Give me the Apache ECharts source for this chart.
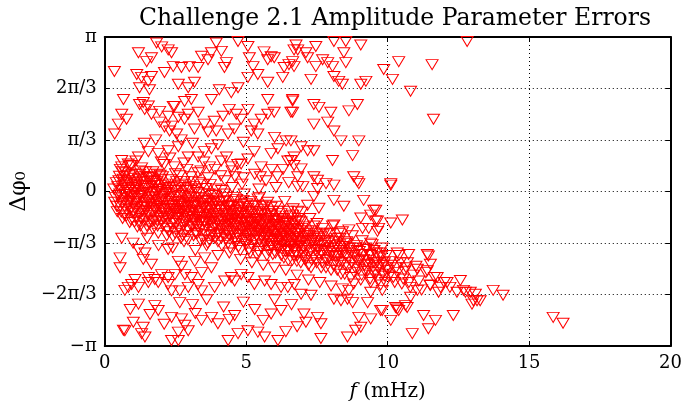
<!DOCTYPE html>
<html><head><meta charset="utf-8">
<script src="https://cdn.jsdelivr.net/npm/echarts@6/dist/echarts.min.js"></script>
<style>html,body{margin:0;padding:0;background:#fff}#c{width:685px;height:407px}</style>
</head><body><div id="c"></div>
<script>
// x: frequency f (mHz); y: phase error Δφ0 (radians)
const xTicks = [0, 5, 10, 15, 20];
const yTickLabels = ['\u2212\u03c0', '\u22122\u03c0/3', '\u2212\u03c0/3', '0', '\u03c0/3', '2\u03c0/3', '\u03c0'];

const upperScatter = [
[0.34,2.44],[1.19,2.82],[1.83,3.02],[2.01,2.94],[2.24,2.88],[2.36,2.82],[1.48,2.64],[1.65,2.72],[1.13,2.38],[1.30,2.32],[1.54,2.24],[1.65,2.34],[2.11,2.42],[2.42,2.54],[2.71,2.52],[2.99,2.54],[3.30,2.52],[1.23,2.11],[1.58,2.07],[2.60,2.18],[2.95,2.11],[3.17,2.22],[0.66,1.87],[1.36,1.81],[1.54,1.74],[2.46,1.73],[2.82,1.83],[3.06,1.87],[3.42,2.75],[3.65,2.68],[3.77,2.82],[3.94,3.02],[4.12,2.85],[4.30,2.62],[4.23,2.52],[4.71,3.05],[5.06,2.95],[5.11,2.72],[5.24,2.54],[5.41,2.38],[5.06,2.32],[5.63,2.84],[5.88,2.74],[5.76,2.68],[5.99,2.72],[6.34,2.52],[6.51,2.58],[6.64,2.64],[6.29,2.32],[6.69,2.88],[6.76,2.98],[5.76,2.22],[4.05,2.07],[3.77,1.87],[4.47,2.01],[4.71,2.11],[5.76,1.87],[6.64,1.87],[6.58,1.61],[0.60,1.57],[0.48,1.37],[0.35,1.17],[0.77,1.47],[1.23,1.77],[1.41,1.67],[1.65,1.57],[1.94,1.63],[2.24,1.53],[2.42,1.73],[2.60,1.51],[2.82,1.47],[1.94,1.41],[2.11,1.31],[2.36,1.33],[2.29,1.23],[2.54,1.17],[2.95,1.57],[3.30,1.61],[3.52,1.37],[3.87,1.43],[4.18,1.53],[4.40,1.67],[4.65,1.57],[4.82,1.47],[5.06,1.67],[5.28,1.37],[5.53,1.47],[5.76,1.57],[5.99,1.61],[3.17,1.27],[3.65,1.21],[3.94,1.23],[4.36,1.17],[4.58,1.27],[5.18,1.23],[5.41,1.17],[6.41,1.03],[0.83,0.56],[0.60,0.50],[1.19,0.70],[1.54,0.81],[1.89,0.77],[2.24,0.83],[2.60,0.91],[2.95,0.70],[3.30,0.70],[3.52,0.81],[3.77,0.87],[4.12,0.62],[4.47,0.50],[4.82,0.56],[5.06,0.66],[5.28,0.81],[5.53,0.50],[5.88,0.77],[6.12,0.87],[6.47,0.62],[6.69,0.70],
[0.6,0.63],[0.95,0.53],[1.4,0.98],[1.8,1.05],[2.7,1.05],[3.1,0.98],[4.0,0.95],[4.9,1.0],[6.0,1.1],[2.0,0.6],[2.8,0.58],[3.9,0.45],[4.3,0.7],[5.5,0.3],[6.3,0.45],
[7.46,2.95],[8.10,3.05],[8.52,3.05],[9.05,2.98],[8.45,2.82],[8.52,2.62],[6.82,2.88],[7.11,2.82],[7.17,2.72],[7.46,2.54],[7.70,2.68],[7.88,2.62],[8.05,2.54],[8.10,2.34],[8.27,2.24],[8.40,2.18],[7.29,2.28],[6.69,2.54],[9.05,2.18],[9.23,2.24],[9.86,2.48],[10.17,2.28],[10.39,2.64],[10.81,2.04],[11.57,2.58],[11.62,1.47],[12.81,3.05],[7.39,1.77],[7.57,1.71],[7.99,1.61],[8.63,1.64],[8.93,1.77],[6.64,1.84],[6.64,1.61],[7.39,1.37],[7.88,1.41],[8.10,1.23],[8.35,1.03],[8.98,1.03],[6.94,0.91],[7.17,0.83],[7.39,0.83],[8.05,0.63],[8.76,0.73],[6.58,1.03],[6.58,0.63],[6.69,0.53],[6.82,0.30],[6.94,0.46],[7.39,0.30],[7.52,0.23],[7.82,0.16],[8.10,0.13],[8.80,0.30],[8.98,0.16],[10.11,0.13],[6.82,0.10],[7.52,0.06],[8.93,0.20]
];

const bandPoints = [
[0.32,0.05],[0.35,-0.22],[0.41,0.18],[0.44,-0.41],[0.48,-0.08],[0.52,0.31],[0.55,-0.3],[0.6,0.02],[0.63,-0.55],[0.67,0.12],[0.7,-0.18],[0.74,0.38],[0.77,-0.37],[0.81,-0.02],[0.84,0.22],[0.88,-0.63],[0.9,-0.12],[0.94,0.08],[0.97,-0.44],[1.0,-0.25],[1.03,0.27],[1.06,-0.05],[1.1,-0.52],[1.13,0.14],[1.16,-0.31],[1.2,-0.14],[1.23,0.35],[1.26,-0.7],[1.3,-0.03],[1.33,-0.4],[1.36,0.19],[1.4,-0.22],[1.43,-0.58],[1.46,0.06],[1.5,-0.33],[1.53,0.28],[1.56,-0.12],[1.6,-0.49],[1.63,0.1],[1.66,-0.27],[1.7,-0.76],[1.73,-0.05],[1.76,0.22],[1.8,-0.38],[1.83,-0.18],[1.86,-0.6],[1.9,0.04],[1.93,-0.3],[1.96,0.33],[2.0,-0.45],
[2.03,-0.1],[2.06,-0.68],[2.1,-0.24],[2.13,0.15],[2.16,-0.5],[2.2,-0.02],[2.23,-0.36],[2.26,-0.82],[2.3,-0.15],[2.33,0.24],[2.36,-0.44],[2.4,-0.28],[2.43,-0.62],[2.46,0.02],[2.5,-0.2],[2.53,-0.53],[2.56,-0.35],[2.6,0.12],[2.63,-0.74],[2.66,-0.08],[2.7,-0.41],[2.73,-0.27],[2.76,-0.9],[2.8,0.2],[2.83,-0.47],[2.86,-0.15],[2.9,-0.6],[2.93,-0.33],[2.96,0.05],[3.0,-0.52],[3.03,-0.22],[3.06,-0.71],[3.1,-0.38],[3.13,0.1],[3.16,-0.57],[3.2,-0.12],[3.23,-0.45],[3.26,-0.86],[3.3,-0.29],[3.33,0.18],[3.36,-0.64],[3.4,-0.4],[3.43,-0.05],[3.46,-0.53],[3.5,-0.98],[3.53,-0.31],[3.56,0.06],[3.6,-0.72],[3.63,-0.46],[3.66,-0.18],[3.7,-0.6],[3.73,0.14],[3.76,-0.39],[3.8,-0.83],[3.83,-0.25],[3.86,-0.55],[3.9,-0.07],[3.93,-0.68],[3.96,-0.36],[4.0,-1.02],
[4.03,-0.48],[4.06,-0.2],[4.1,-0.75],[4.13,0.02],[4.16,-0.58],[4.2,-0.33],[4.23,-0.9],[4.26,-0.44],[4.3,-0.12],[4.33,-0.67],[4.36,-1.05],[4.4,-0.52],[4.43,-0.28],[4.46,-0.8],[4.5,0.08],[4.53,-0.6],[4.56,-0.38],[4.6,-0.95],[4.63,-0.7],[4.66,-0.16],[4.7,-0.55],[4.73,-1.12],[4.76,-0.45],[4.8,-0.82],[4.83,-0.26],[4.86,-0.64],[4.9,-0.99],[4.93,-0.05],[4.96,-0.73],[5.0,-0.5],[5.03,-0.88],[5.06,-0.35],[5.1,-1.18],[5.13,-0.62],[5.16,-0.2],[5.2,-0.78],[5.23,-0.46],[5.26,-1.0],[5.3,-0.7],[5.33,-0.3],[5.36,-0.9],[5.4,-0.57],[5.43,-1.22],[5.46,-0.12],[5.5,-0.8],[5.53,-0.48],[5.56,-1.07],[5.6,-0.66],[5.63,-0.36],[5.66,-0.94],[5.7,-0.6],[5.73,-1.3],[5.76,-0.22],[5.8,-0.85],[5.83,-0.55],[5.86,-1.1],[5.9,-0.74],[5.93,-0.4],[5.96,-0.98],[6.0,-0.67],[6.03,-1.25],[6.06,-0.3],[6.1,-0.88],[6.13,-0.58],[6.16,-1.15],[6.2,-0.78],[6.23,-0.45],[6.26,-1.02],[6.3,-0.7],[6.33,-1.35],[6.36,-0.2],[6.4,-0.92],[6.43,-0.62],[6.46,-1.2],[6.5,-0.82],[6.53,-0.5],[6.56,-1.08],[6.6,-0.75],[6.63,-1.4],[6.66,-0.35],[6.7,-0.96],[6.73,-0.68],[6.76,-1.25],[6.8,-0.86],[6.83,-0.55],[6.86,-1.12],[6.9,-0.8],[6.93,-1.45],[6.96,-0.42],[7.0,-1.0],
[7.05,-0.72],[7.1,-1.2],[7.15,-0.9],[7.2,-1.5],[7.25,-0.55],[7.3,-1.05],[7.35,-0.8],[7.4,-1.32],[7.45,-1.0],[7.5,-0.65],[7.55,-1.18],[7.6,-0.92],[7.65,-1.55],[7.7,-0.75],[7.75,-1.1],[7.8,-1.38],[7.85,-0.85],[7.9,-1.22],[7.95,-1.0],[8.0,-1.6],[8.05,-0.7],[8.1,-1.15],[8.15,-1.42],[8.2,-0.95],[8.25,-1.3],[8.3,-1.08],[8.35,-1.68],[8.4,-0.82],[8.45,-1.25],[8.5,-1.5],[8.55,-1.02],[8.6,-1.35],[8.65,-1.15],[8.7,-1.75],[8.75,-0.9],[8.8,-1.3],[8.85,-1.55],[8.9,-1.1],[8.95,-1.42],[9.0,-1.22],[9.05,-1.8],[9.1,-1.0],[9.15,-1.38],[9.2,-1.62],[9.25,-1.18],[9.3,-1.48],[9.35,-1.28],[9.4,-1.85],[9.45,-1.08],[9.5,-1.45],[9.55,-1.7],[9.6,-1.25],[9.65,-1.55],[9.7,-1.35],[9.75,-1.9],[9.8,-1.15],[9.85,-1.5],[9.9,-1.72],[9.95,-1.3],[10.0,-1.6],
[10.1,-1.42],[10.2,-1.75],[10.3,-1.55],[10.4,-1.3],[10.5,-1.88],[10.6,-1.62],[10.7,-1.45],[10.8,-1.95],[10.9,-1.7],[11.0,-1.52],[11.1,-1.82],[11.2,-2.0],[11.35,-1.65],[11.5,-1.9],[11.65,-1.75],[11.8,-2.05],[12.0,-1.85],[12.2,-1.95],
[0.38,-0.12],[0.46,0.1],[0.58,-0.42],[0.65,0.25],[0.72,-0.06],[0.79,-0.28],[0.86,0.15],[0.92,-0.35],[0.99,0.02],[1.05,-0.62],[1.12,-0.2],[1.18,0.12],[1.25,-0.45],[1.32,-0.1],[1.38,0.3],[1.45,-0.38],[1.52,-0.02],[1.58,-0.66],[1.65,0.16],[1.72,-0.42],[1.78,-0.1],[1.85,0.2],[1.92,-0.52],[1.98,-0.16],
[2.08,-0.35],[2.15,-0.05],[2.22,-0.58],[2.28,0.08],[2.35,-0.3],[2.42,-0.75],[2.48,-0.1],[2.55,-0.48],[2.62,-0.22],[2.68,0.15],[2.75,-0.55],[2.82,-0.3],[2.88,-0.8],[2.95,-0.18],[3.02,-0.42],[3.08,0.2],[3.15,-0.28],[3.22,-0.66],[3.28,-0.02],[3.35,-0.5],[3.42,-0.25],[3.48,-0.78],[3.55,-0.15],[3.62,-0.58],[3.68,-0.32],[3.75,-0.9],[3.82,-0.08],[3.88,-0.45],[3.95,-0.22],
[4.08,-0.62],[4.15,-0.3],[4.22,-0.05],[4.28,-0.55],[4.35,-0.82],[4.42,-0.4],[4.48,-0.65],[4.55,-0.12],[4.62,-0.5],[4.68,-0.88],[4.75,-0.32],[4.82,-0.58],[4.88,-0.42],[4.95,-0.85],[5.02,-0.25],[5.08,-0.6],[5.15,-0.95],[5.22,-0.4],[5.28,-0.72],[5.35,-0.55],[5.42,-0.15],[5.48,-0.68],[5.55,-0.92],[5.62,-0.45],[5.68,-0.78],[5.75,-0.58],[5.82,-1.02],[5.88,-0.32],[5.95,-0.82],[6.02,-0.5],[6.08,-0.98],[6.15,-0.7],[6.22,-0.92],[6.28,-0.55],[6.35,-1.1],[6.42,-0.78],[6.48,-0.4],[6.55,-0.95],[6.62,-0.62],[6.68,-1.18],[6.75,-0.85],[6.82,-1.02],[6.88,-0.6],[6.95,-1.2],
[0.55,0.45],[0.9,0.52],[1.3,0.48],[1.7,0.4],[2.1,0.55],[2.5,0.36],[2.9,0.45],[3.3,0.38],[3.7,0.5],[4.1,0.32],[4.5,0.42],[4.9,0.28],[5.3,0.35],[5.7,0.22],[6.1,0.3],[6.5,0.18],[7.0,0.1],[1.1,0.62],[2.3,0.68],[3.5,0.6],[4.7,0.55],[5.9,0.45],[0.7,0.3],[1.6,0.28],
[0.6,-0.95],[1.0,-1.05],[1.5,-0.95],[1.9,-1.1],[2.4,-1.15],[2.8,-1.02],[3.2,-1.2],[3.6,-1.1],[4.0,-1.3],[4.4,-1.25],[4.8,-1.38],[5.2,-1.45],[5.6,-1.5],[6.0,-1.55],[6.4,-1.6],[6.8,-1.7],[7.2,-1.8],[7.6,-1.85],[8.0,-1.92],[8.4,-1.98],[8.8,-1.88]
];

const bandCore = [
[0.42,-0.3],[0.5,0.22],[0.57,-0.15],[0.62,0.4],[0.69,-0.48],[0.75,0.05],[0.82,-0.22],[0.87,0.32],[0.93,-0.58],[0.98,-0.1],[1.04,0.18],[1.09,-0.36],[1.15,-0.72],[1.19,0.25],[1.24,-0.08],[1.29,-0.55],[1.34,0.1],[1.39,-0.3],[1.44,0.4],[1.49,-0.7],[1.54,-0.18],[1.59,0.2],[1.64,-0.4],[1.69,-0.02],[1.74,-0.6],[1.79,0.12],[1.84,-0.3],[1.89,-0.85],[1.94,0.05],[1.99,-0.35],[2.04,0.3],[2.09,-0.55],[2.14,-0.2],[2.19,-0.9],[2.24,0.02],[2.29,-0.45],[2.34,-0.65],[2.39,0.1],[2.44,-0.35],[2.49,-0.85],[2.54,0.2],[2.59,-0.6],[2.64,-0.3],[2.69,-0.95],[2.74,-0.05],[2.79,-0.68],[2.84,0.08],[2.89,-0.4],[2.94,-0.98],[2.99,-0.25],[3.04,0.02],[3.09,-0.58],[3.14,-0.9],[3.19,-0.3],[3.24,0.05],[3.29,-0.72],[3.34,-0.42],[3.39,-1.0],[3.44,-0.18],[3.49,0.15],
[3.54,-0.62],[3.59,-0.35],[3.64,-1.05],[3.69,-0.05],[3.74,-0.5],[3.79,-0.75],[3.84,-0.15],[3.89,-0.95],[3.94,0.05],[3.99,-0.6],[4.04,-0.85],[4.09,-0.38],[4.14,-1.1],[4.19,-0.18],[4.24,-0.7],[4.29,-0.98],[4.34,-0.3],[4.39,-0.62],[4.44,-1.15],[4.49,-0.45],[4.54,-0.85],[4.59,-0.2],[4.64,-1.02],[4.69,-0.62],[4.74,-0.38],[4.79,-1.2],[4.84,-0.75],[4.89,-0.18],[4.94,-0.55],[4.99,-1.08],[5.04,-0.7],[5.09,-0.42],[5.14,-1.25],[5.19,-0.85],[5.24,-0.28],[5.29,-0.98],[5.34,-0.62],[5.39,-1.3],[5.44,-0.8],[5.49,-0.4],[5.54,-1.15],[5.59,-0.72],[5.64,-1.0],[5.69,-0.28],[5.74,-0.9],[5.79,-1.2],[5.84,-0.68],[5.89,-0.48],[5.94,-1.28],[5.99,-0.88],[6.04,-0.6],[6.09,-1.12],[6.14,-0.4],[6.19,-1.0],[6.24,-1.3],[6.29,-0.85],[6.34,-0.62],[6.39,-1.22],[6.44,-0.95],[6.49,-1.4],[6.54,-0.7],[6.59,-1.12],[6.64,-0.48],[6.69,-1.3],[6.74,-0.95],[6.79,-1.42],[6.84,-0.75],[6.89,-1.05],[6.94,-0.62],[6.99,-1.3],[7.04,-0.95],[7.09,-1.4],[7.14,-1.1],[7.19,-0.8],[7.24,-1.25],[7.29,-1.55],[7.34,-1.0],[7.39,-0.7],[7.44,-1.2],[7.49,-1.45],
[7.52,-0.95],[7.58,-1.3],[7.62,-1.1],[7.68,-1.45],[7.72,-0.88],[7.78,-1.2],[7.82,-1.55],[7.88,-1.05],[7.92,-1.35],[7.98,-0.85],[8.02,-1.25],[8.08,-1.5],[8.12,-1.02],[8.18,-1.32],[8.22,-1.6],[8.28,-1.2],[8.32,-0.95],[8.38,-1.45],[8.42,-1.12],[8.48,-1.68],[8.52,-1.3],[8.58,-1.05],[8.62,-1.55],[8.68,-1.25],[8.72,-1.45],[8.78,-1.15],[8.82,-1.65],[8.88,-1.35],[8.92,-1.2],[8.98,-1.58],[9.02,-1.4],[9.08,-1.7],[9.12,-1.28],[9.18,-1.5],[9.22,-1.15],[9.28,-1.62],[9.32,-1.4],[9.38,-1.78],[9.42,-1.3],[9.48,-1.55],[9.52,-1.2],[9.58,-1.65],[9.62,-1.45],[9.68,-1.8],[9.72,-1.5],[9.78,-1.32],[9.82,-1.68],[9.88,-1.45],[9.92,-1.85],[9.98,-1.55],[10.05,-1.72],[10.15,-1.5],[10.25,-1.85],[10.35,-1.65],[10.45,-1.45],[10.55,-1.78],[10.65,-1.55],[10.75,-1.85]
];

const bandDense = [
[0.53,-0.05],[0.61,-0.25],[0.68,0.18],[0.76,-0.5],[0.83,0.02],[0.91,-0.2],[0.96,0.35],[1.02,-0.4],[1.08,0.05],[1.14,-0.15],[1.21,-0.6],[1.27,0.2],[1.31,-0.32],[1.37,-0.05],[1.42,-0.8],[1.47,0.12],[1.51,-0.45],[1.57,-0.25],[1.62,0.3],[1.67,-0.62],[1.71,-0.15],[1.77,-0.35],[1.81,0.0],[1.87,-0.7],[1.91,-0.22],[1.97,0.12],
[2.02,-0.6],[2.07,-0.15],[2.12,-0.42],[2.17,0.05],[2.21,-0.75],[2.27,-0.28],[2.31,-0.5],[2.37,-0.05],[2.41,-0.92],[2.47,-0.4],[2.51,-0.65],[2.57,-0.12],[2.61,-0.45],[2.67,-0.8],[2.71,-0.2],[2.77,-0.38],[2.81,-0.62],[2.87,0.02],[2.91,-0.5],[2.97,-0.78],[3.01,-0.1],[3.07,-0.48],[3.11,-0.7],[3.17,-0.22],[3.21,-0.85],[3.27,-0.5],[3.31,-0.12],[3.37,-0.78],[3.41,-0.6],[3.47,-0.32],[3.51,-0.62],[3.57,-0.88],[3.61,-0.2],[3.67,-0.48],[3.71,-1.0],[3.77,-0.62],[3.81,-0.3],[3.87,-0.72],[3.91,-0.5],[3.97,-0.88],
[4.02,-0.3],[4.07,-0.7],[4.12,-0.95],[4.17,-0.45],[4.21,-0.2],[4.27,-0.8],[4.31,-0.55],[4.37,-0.3],[4.41,-0.9],[4.47,-0.58],[4.51,-0.3],[4.57,-0.75],[4.61,-1.05],[4.67,-0.42],[4.71,-0.72],[4.77,-0.95],[4.81,-0.48],[4.87,-0.78],[4.91,-0.3],[4.97,-0.62],[5.01,-1.0],[5.07,-0.5],[5.11,-0.8],[5.17,-0.62],[5.21,-1.1],[5.27,-0.55],[5.31,-0.85],[5.37,-0.42],[5.41,-0.75],[5.47,-1.0],[5.51,-0.62],[5.57,-0.3],[5.61,-0.85],[5.67,-1.08],[5.71,-0.7],[5.77,-0.45],[5.81,-0.95],[5.87,-0.8],[5.91,-1.12],[5.97,-0.6],[6.01,-0.82],[6.07,-1.05],[6.11,-0.72],[6.17,-0.95],[6.21,-0.55],[6.27,-1.18],[6.31,-0.9],[6.37,-0.72],[6.41,-1.05],[6.47,-0.65],[6.51,-1.22],[6.57,-0.85],[6.61,-1.0],[6.67,-0.78],[6.71,-1.15],[6.77,-0.6],[6.81,-1.3],[6.87,-0.92],[6.91,-1.1],[6.97,-0.75],
[7.02,-1.15],[7.07,-0.85],[7.12,-1.35],[7.17,-1.0],[7.22,-0.9],[7.27,-1.2],[7.32,-1.4],[7.37,-0.95],[7.42,-1.1],[7.47,-0.85],[7.57,-1.05],[7.67,-1.25],[7.77,-1.0],[7.87,-1.4],[7.97,-1.15],[8.07,-1.3],[8.17,-1.1],[8.27,-1.45],[8.37,-1.25],[8.47,-1.05],
[1.25,0.42],[1.85,0.35],[2.45,0.5],[3.05,0.3],[3.65,0.28],[4.25,0.22],[4.85,0.15],[5.45,0.05],[6.05,0.08],[2.0,0.25],[2.65,0.32],[3.4,0.42],[4.6,0.3]
];

const rightScatter = [
[7.39,-0.10],[7.17,-0.28],[7.57,-0.34],[8.10,-0.18],[8.45,-0.30],[9.15,-0.18],[9.51,-0.38],[6.82,-0.40],[9.05,-0.54],[9.40,-0.48],[9.58,-0.60],[9.68,-0.75],[9.33,-0.75],[10.11,-0.64],[10.52,-0.58],[9.11,-0.75],[8.10,-0.68],[8.27,-0.85],[8.63,-0.78],[9.40,-1.05],[9.75,-1.25],[10.34,-1.25],[10.74,-1.28],[11.40,-1.28],[11.51,-1.48],[11.40,-1.61],[11.05,-1.58],[11.75,-1.75],[12.10,-1.85],[12.57,-1.81],[12.92,-2.05],[13.10,-2.09],[13.16,-2.22],[12.98,-2.29],[12.45,-2.05],[12.75,-2.05],[11.27,-2.52],[11.69,-2.62],[12.32,-2.52],[11.44,-2.79],[10.87,-2.89],[10.11,-2.62],[10.34,-2.39],[10.63,-2.32],[9.75,-2.42],[9.40,-2.59],[8.98,-2.56],[9.05,-2.76],[8.87,-2.82],[8.58,-2.96],[7.64,-2.99],[7.04,-2.49],[7.52,-2.56],[7.64,-2.69],[7.11,-2.66],[8.35,-2.22],[8.76,-2.26],[9.29,-2.26],[6.94,-2.09],[7.29,-2.11],[8.10,-2.19],[8.58,-2.19],[9.40,-2.05],[9.81,-2.01],[8.63,-2.01],[12.68,-2.01],[13.03,-2.22],[13.73,-2.01],[14.08,-2.11],[15.85,-2.56],[16.20,-2.68],[13.27,-2.22],[9.81,-2.42],[10.28,-2.36],[10.69,-2.36],[10.39,-2.42],[9.58,-0.38],[9.64,-0.60],[9.64,-0.81],[11.44,-1.31],[11.87,-1.95],[11.51,-1.91],[11.05,-2.01],[10.81,-2.15],[10.11,0.16]
];

const lowerScatter = [
[1.19,-1.18],[1.42,-1.25],[1.36,-1.38],[1.65,-1.48],[2.24,-1.18],[2.60,-1.42],[2.71,-1.52],[3.18,-1.42],[3.53,-1.35],[3.77,-1.55],[3.42,-1.65],[3.06,-1.75],[2.83,-1.69],[2.48,-1.69],[2.24,-1.75],[2.01,-1.69],[1.77,-1.79],[1.54,-1.75],[1.07,-1.79],[0.95,-1.89],[0.83,-1.95],[1.19,-1.95],[1.54,-1.85],[1.89,-1.85],[2.24,-1.89],[2.36,-2.02],[2.65,-2.02],[2.95,-1.95],[3.30,-1.89],[3.42,-2.02],[3.88,-1.95],[4.24,-1.82],[4.47,-1.75],[4.59,-1.82],[4.82,-1.69],[5.06,-1.75],[5.29,-1.89],[5.65,-1.82],[5.88,-1.89],[6.23,-1.95],[6.47,-1.95],[6.70,-1.89],[1.19,-2.29],[1.77,-2.32],[1.89,-2.42],[2.65,-2.26],[0.71,-2.83],[1.01,-2.66],[1.36,-2.76],[1.30,-2.89],[1.42,-2.96],[2.36,-2.56],[2.71,-2.59],[2.83,-2.72],[2.60,-2.86],[2.95,-2.83],[3.42,-2.62],[3.77,-2.56],[4.00,-2.69],[4.59,-2.52],[4.71,-2.89],[5.06,-2.83],[5.41,-2.86],[5.65,-2.96],[5.88,-2.49],[6.23,-2.42],[6.12,-3.03],[4.36,-3.03],[2.36,-3.03],[2.60,-3.03],[0.54,-1.35],[0.71,-2.01],[0.66,-2.82],[0.54,-1.55],
[3.1,-2.3],[3.6,-2.2],[4.2,-2.35],[4.9,-2.25],[5.3,-2.4],[6.6,-2.3],[6.0,-2.2],[5.6,-2.62],[4.4,-2.6],[3.2,-2.48],[6.8,-2.75],[6.4,-2.85],[2.1,-2.7],[1.6,-2.5],[0.9,-2.4]
];

const UNIT = Math.PI / 3;
const allPoints = [].concat(upperScatter, bandPoints, bandCore, bandDense, rightScatter, lowerScatter)
  .map(p => [p[0], p[1] / UNIT]);

const SERIF = '"DejaVu Serif", "Liberation Serif", serif';
const chart = echarts.init(document.getElementById('c'), null, {renderer: 'canvas'});
const tickStyle = {show: true, inside: true, length: 5, lineStyle: {color: '#000', width: 1}};
const lineStyle = {show: true, onZero: false, lineStyle: {color: '#000', width: 2}};
const gridLine = {show: true, lineStyle: {color: '#000', width: 1, type: [1, 3]}};
chart.setOption({
  animation: false,
  backgroundColor: '#fff',
  title: {
    text: 'Challenge 2.1 Amplitude Parameter Errors',
    left: 390, top: 2, textAlign: 'center',
    textStyle: {fontFamily: SERIF, fontWeight: 'normal', fontSize: 23.5, color: '#000'}
  },
  grid: {left: 103, right: 14, top: 37, bottom: 59, show: false},
  xAxis: [{
    type: 'value', min: xTicks[0], max: xTicks[xTicks.length - 1], interval: 5,
    position: 'bottom', axisLine: lineStyle, axisTick: tickStyle, splitLine: gridLine,
    axisLabel: {color: '#000', fontFamily: SERIF, fontSize: 18, margin: 8},
    name: '{i|f} (mHz)', nameLocation: 'middle', nameGap: 36,
    nameTextStyle: {fontFamily: SERIF, fontSize: 20, color: '#000',
      rich: {i: {fontFamily: SERIF, fontStyle: 'italic', fontSize: 20, color: '#000'}}}
  }, {
    type: 'value', min: 0, max: 20, interval: 5, position: 'top',
    axisLine: lineStyle, axisTick: tickStyle, axisLabel: {show: false}, splitLine: {show: false}
  }],
  yAxis: [{
    type: 'value', min: -3, max: 3, interval: 1, position: 'left',
    axisLine: lineStyle, axisTick: tickStyle, splitLine: gridLine,
    axisLabel: {color: '#000', fontFamily: SERIF, fontSize: 18, margin: 8,
      formatter: v => yTickLabels[Math.round(v) + 3]},
    name: '\u0394\u03c6\u2080', nameLocation: 'middle', nameGap: 64, nameRotate: 90,
    nameTextStyle: {fontFamily: SERIF, fontSize: 22, color: '#000'}
  }, {
    type: 'value', min: -3, max: 3, interval: 1, position: 'right',
    axisLine: lineStyle, axisTick: tickStyle, axisLabel: {show: false}, splitLine: {show: false}
  }],
  series: [{
    type: 'scatter',
    xAxisIndex: 0, yAxisIndex: 0,
    symbol: 'triangle', symbolRotate: 180, symbolSize: [12, 10],
    itemStyle: {color: 'rgba(255,255,255,0)', borderColor: '#ff0000', borderWidth: 1, opacity: 1},
    emphasis: {disabled: true},
    data: allPoints
  }]
});
</script></body></html>
